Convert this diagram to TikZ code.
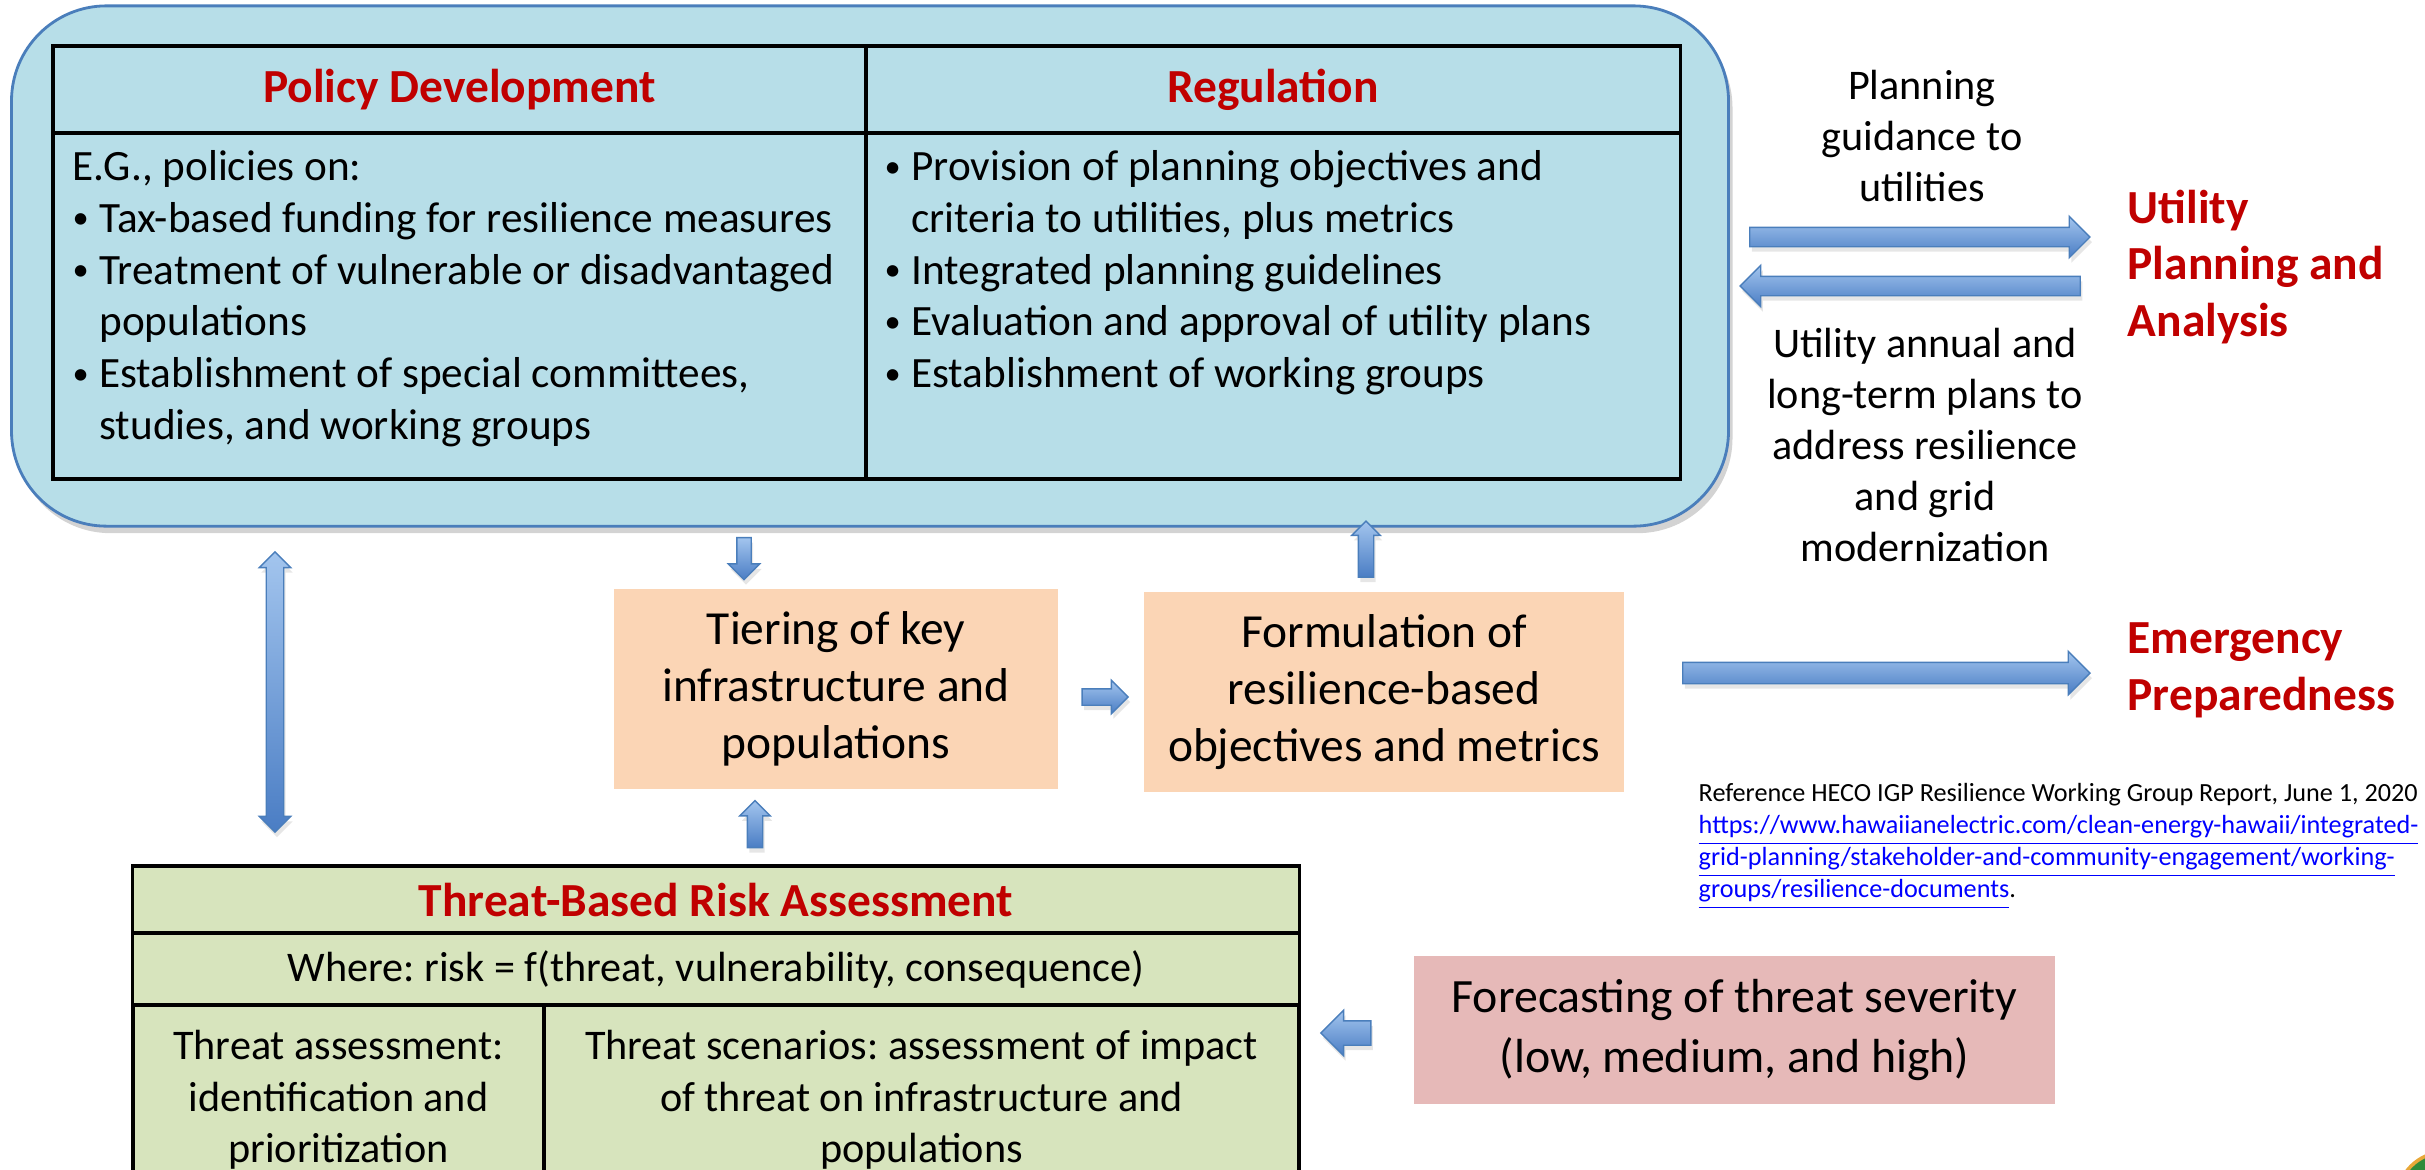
\documentclass[tikz,border=0pt]{standalone}
\usepackage{fontspec}
\setmainfont{Carlito}
\usetikzlibrary{shapes.arrows,shadows}
\frenchspacing

\definecolor{govfill}{HTML}{B7DEE8}
\definecolor{govline}{HTML}{4A7EBB}
\definecolor{titlered}{HTML}{C00000}
\definecolor{peach}{HTML}{FBD5B5}
\definecolor{riskgreen}{HTML}{D7E4BD}
\definecolor{forepink}{HTML}{E6B9B8}
\definecolor{arrtop}{HTML}{A3C5EE}
\definecolor{arrbot}{HTML}{4A7DC4}
\definecolor{arrline}{HTML}{4A7EBB}
\definecolor{linkblue}{HTML}{0000FF}
\definecolor{logogreen}{HTML}{2E8B3A}
\definecolor{logorim}{HTML}{E8A838}

\newcommand{\blt}{\makebox[7.6pt][l]{\raisebox{0.08em}{\scalebox{0.75}{\textbullet}}}}
\newcommand{\bltind}{\hspace*{7.6pt}}

\begin{document}
\begin{tikzpicture}[x=0.01cm,y=-0.01cm,
    govbox/.style={draw=govline,line width=0.8pt,fill=govfill,rounded corners=0.95cm,
                   drop shadow={shadow xshift=0.4mm,shadow yshift=-0.7mm,opacity=0.35}},
    cell/.style={draw=black,line width=1pt,inner sep=0pt},
    headtxt/.style={font=\fontsize{13.5}{16.2}\selectfont\bfseries,text=titlered},
    bodytxt/.style={font=\fontsize{12.3}{14.7}\selectfont,align=left,inner sep=0pt},
    sidetxt/.style={font=\fontsize{12}{14.5}\selectfont,align=center,inner sep=0pt},
    sidehead/.style={font=\fontsize{13.5}{16.2}\selectfont\bfseries,text=titlered,align=left,inner sep=0pt},
    midbox/.style={fill=peach,inner sep=0pt,align=center,font=\fontsize{13.5}{16.2}\selectfont},
    riskcell/.style={cell,fill=riskgreen,align=center,font=\fontsize{12}{14.7}\selectfont},
    blockarrow/.style={single arrow,draw=arrline,line width=0.4pt,top color=arrtop,bottom color=arrbot,
                       drop shadow={shadow xshift=0.2mm,shadow yshift=-0.5mm,opacity=0.2}},
    blockdouble/.style={double arrow,draw=arrline,line width=0.4pt,top color=arrtop,bottom color=arrbot,
                       drop shadow={shadow xshift=0.2mm,shadow yshift=-0.5mm,opacity=0.2}},
]
\useasboundingbox (0,0) rectangle (2425,1169);

%%%% policy and regulation
\node [govbox,minimum width=17.16cm,minimum height=5.20cm] (govbox) at (870,266) {};

\node [cell,headtxt,minimum width=8.13cm,minimum height=0.87cm] (polhead) at (459.5,89.5) {Policy Development};
\node [cell,headtxt,minimum width=8.14cm,minimum height=0.87cm] (reghead) at (1273,89.5) {Regulation};
\node [cell,minimum width=8.13cm,minimum height=3.46cm] (polbody) at (459.5,306) {};
\node [cell,minimum width=8.14cm,minimum height=3.46cm] (regbody) at (1273,306) {};

\node [bodytxt,anchor=north west] (poltext) at (72,150) {E.G., policies on:\\
  \blt Tax-based funding for resilience measures\\
  \blt Treatment of vulnerable or disadvantaged\\
  \bltind populations\\
  \blt Establishment of special committees,\\
  \bltind studies, and working groups};
\node [bodytxt,anchor=north west] (regtext) at (884,150) {\blt Provision of planning objectives and\\
  \bltind criteria to utilities, plus metrics\\
  \blt Integrated planning guidelines\\
  \blt Evaluation and approval of utility plans\\
  \blt Establishment of working groups};

%%%% utility side
\node [sidetxt] (guidetxt) at (1922,136) {Planning\\guidance to\\utilities};
\node [blockarrow,minimum height=3.40cm,inner sep=0.09cm,single arrow head extend=0.11cm] (guidearr) at (1915,237) {};
\node [blockarrow,shape border rotate=180,minimum height=3.40cm,inner sep=0.09cm,single arrow head extend=0.11cm] (planarr) at (1915,286) {};
\node [sidetxt] (plantxt) at (1925,445) {Utility annual and\\long-term plans to\\address resilience\\and grid\\modernization};
\node [sidehead,anchor=west] (utility) at (2127,267) {Utility\\Planning and\\Analysis};

\node [blockarrow,minimum height=4.07cm,inner sep=0.10cm,single arrow head extend=0.11cm] (emerarr) at (1881,673) {};
\node [sidehead,anchor=west] (emergency) at (2127,670) {Emergency\\Preparedness};

\node [inner sep=0pt,anchor=north west,align=left,font=\fontsize{7.45}{9.1}\selectfont] (reftxt) at (1698,783) {Reference HECO IGP Resilience Working Group Report, June 1, 2020\\
  \textcolor{linkblue}{\underline{https://www.hawaiianelectric.com/clean-energy-hawaii/integrated-}}\\
  \textcolor{linkblue}{\underline{grid-planning/stakeholder-and-community-engagement/working-}}\\
  \textcolor{linkblue}{\underline{groups/resilience-documents}}.};

%%%% middle row
\node [midbox,minimum width=4.44cm,minimum height=2.00cm] (tier) at (836,689) {Tiering of key\\infrastructure and\\populations};
\node [midbox,minimum width=4.80cm,minimum height=2.00cm] (formul) at (1384,692) {Formulation of\\resilience-based\\objectives and metrics};

\node [blockarrow,shape border rotate=270,minimum height=0.42cm,inner sep=0.065cm,single arrow head extend=0.085cm] (tierin) at (744,555) {};
\node [blockarrow,shape border rotate=90,minimum height=0.47cm,inner sep=0.07cm,single arrow head extend=0.075cm] (tierup) at (755,828) {};
\node [blockarrow,minimum height=0.46cm,inner sep=0.075cm,single arrow head extend=0.085cm] (tierout) at (1101,697) {};
\node [blockarrow,shape border rotate=90,minimum height=0.56cm,inner sep=0.07cm,single arrow head extend=0.065cm] (formup) at (1366,553) {};
\node [blockdouble,shape border rotate=90,minimum height=2.80cm,inner sep=0.08cm,double arrow head extend=0.07cm] (linkarr) at (275,692) {};

%%%% risk assessment
\node [riskcell,headtxt,minimum width=11.66cm,minimum height=0.67cm] (riskhead) at (716,899.5) {Threat-Based Risk Assessment};
\node [riskcell,minimum width=11.66cm,minimum height=0.72cm] (riskdef) at (716,969) {Where: risk = f(threat, vulnerability, consequence)};
\node [riskcell,minimum width=4.11cm,minimum height=1.90cm] (threatid) at (338.5,1100) {Threat assessment:\\identification and\\prioritization};
\node [riskcell,minimum width=7.55cm,minimum height=1.90cm] (threatscen) at (921.5,1100) {Threat scenarios: assessment of impact\\of threat on infrastructure and\\populations};

\node [fill=forepink,inner sep=0pt,align=center,font=\fontsize{13.6}{17}\selectfont,minimum width=6.41cm,minimum height=1.48cm] (forecast) at (1734.5,1030) {Forecasting of threat severity\\(low, medium, and high)};
\node [blockarrow,shape border rotate=180,minimum height=0.50cm,inner sep=0.115cm,single arrow head extend=0.105cm] (forearr) at (1352,1033) {};

\draw [fill=logogreen,draw=logorim,line width=1pt] (2445,1200) circle (0.48cm);

\end{tikzpicture}
\end{document}
